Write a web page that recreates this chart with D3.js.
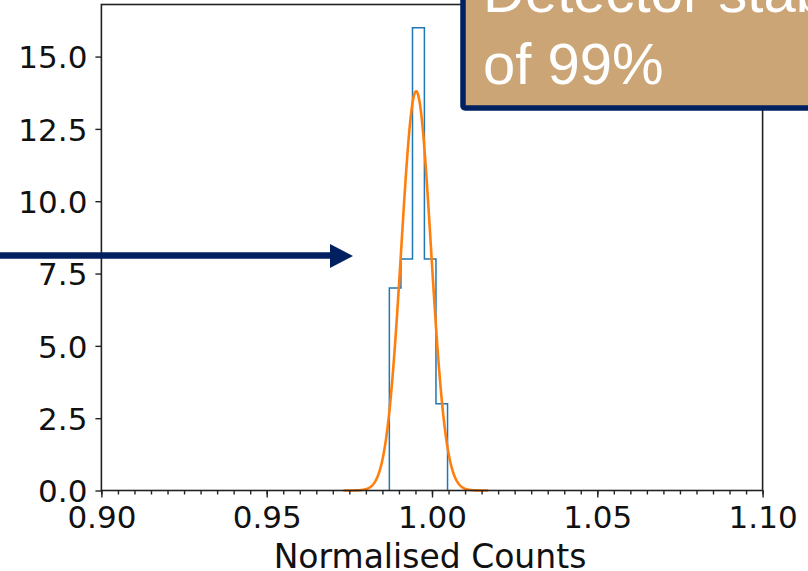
<!DOCTYPE html>
<html>
<head>
<meta charset="utf-8">
<script src="https://cdn.jsdelivr.net/npm/d3@7"></script>
<style>
  html, body { margin: 0; padding: 0; background: #fff; overflow: hidden; }
  svg { display: block; }
</style>
</head>
<body>
<svg id="chart" width="808" height="571"></svg>
<script>
// ---- data ----
const binEdges = [0.9871, 0.9906, 0.9941, 0.9977, 1.0012, 1.0047];
const binCounts = [7, 8, 16, 8, 3];
// Gaussian fit parameters (as plotted)
const fitAmplitude = 13.8;
const fitMean = 0.9952;
const fitSigma = 0.0045;
const fitRange = [0.9732, 1.0170];
const xTicks = [0.90, 0.95, 1.00, 1.05, 1.10];
const xTickLabels = ["0.90", "0.95", "1.00", "1.05", "1.10"];
const yTicks = [0, 2.5, 5, 7.5, 10, 12.5, 15];
const yTickLabels = ["0.0", "2.5", "5.0", "7.5", "10.0", "12.5", "15.0"];
const xDomain = [0.90, 1.10];
const yDomain = [0, 16.8];
const xLabel = "Normalised Counts";
const calloutLines = ["Detector stability", "of 99%"];

// ---- layout ----
const svg = d3.select("#chart");
const mLeft = 101.4, mRight = 762.6, mTop = 4.5, mBottom = 490.5;
const x = d3.scaleLinear().domain(xDomain).range([mLeft, mRight]);
const y = d3.scaleLinear().domain(yDomain).range([mBottom, mTop]);
const tickFont = "'DejaVu Sans', sans-serif";

// histogram step outline
const stepPts = [[binEdges[0], 0]];
binCounts.forEach((c, i) => {
  stepPts.push([binEdges[i], c]);
  stepPts.push([binEdges[i + 1], c]);
});
stepPts.push([binEdges[binEdges.length - 1], 0]);
svg.append("path")
  .attr("d", d3.line().x(d => x(d[0])).y(d => y(d[1]))(stepPts))
  .attr("fill", "none").attr("stroke", "#1f77b4").attr("stroke-width", 1.5)
  .attr("stroke-linejoin", "miter");

// gaussian fit curve
const nPts = 400;
const fitPts = d3.range(nPts + 1).map(i => {
  const xv = fitRange[0] + (fitRange[1] - fitRange[0]) * i / nPts;
  return [xv, fitAmplitude * Math.exp(-((xv - fitMean) ** 2) / (2 * fitSigma ** 2))];
});
svg.append("path")
  .attr("d", d3.line().x(d => x(d[0])).y(d => y(d[1]))(fitPts))
  .attr("fill", "none").attr("stroke", "#ff7f0e").attr("stroke-width", 2.6);

// axes
const xAxis = d3.axisBottom(x).tickValues(xTicks)
  .tickFormat((d, i) => xTickLabels[i]).tickSize(7).tickSizeOuter(0).tickPadding(5);
const xMinor = d3.axisBottom(x).tickValues(d3.range(0, 41).map(i => 0.90 + i * 0.005))
  .tickFormat("").tickSize(4).tickSizeOuter(0);
const yAxis = d3.axisLeft(y).tickValues(yTicks)
  .tickFormat((d, i) => yTickLabels[i]).tickSize(6).tickSizeOuter(0).tickPadding(8);

const gxm = svg.append("g").attr("transform", `translate(0,${mBottom})`).call(xMinor);
const gx = svg.append("g").attr("transform", `translate(0,${mBottom})`).call(xAxis);
const gy = svg.append("g").attr("transform", `translate(${mLeft},0)`).call(yAxis);
[gx, gy, gxm].forEach(g => {
  g.select(".domain").remove();
  g.selectAll(".tick line").attr("stroke", "#222").attr("stroke-width", 1.4);
  g.selectAll("text").attr("font-family", tickFont).attr("font-size", 31).attr("fill", "#111");
});
gx.selectAll("text").attr("dy", null).attr("y", 0).attr("transform", "translate(0,37.5)");
gy.selectAll("text").attr("dy", "0.36em");

// spines
svg.append("rect").attr("x", mLeft).attr("y", mTop).attr("width", mRight - mLeft).attr("height", mBottom - mTop)
  .attr("fill", "none").attr("stroke", "#222").attr("stroke-width", 1.6);

// x label
svg.append("text").attr("x", (mLeft + mRight) / 2 - 2).attr("y", 567.5)
  .attr("text-anchor", "middle").attr("font-family", tickFont).attr("font-size", 33)
  .attr("fill", "#111").text(xLabel);

// arrow
const navy = "#002060";
svg.append("line").attr("x1", 0).attr("y1", 255.5).attr("x2", 332).attr("y2", 255.5)
  .attr("stroke", navy).attr("stroke-width", 6.5);
svg.append("path").attr("d", "M330,244 L353,256 L330,268 Z").attr("fill", navy);

// callout box
svg.append("rect").attr("x", 463).attr("y", -20).attr("width", 420).attr("height", 128)
  .attr("rx", 2)
  .attr("fill", "#CBA576").attr("stroke", navy).attr("stroke-width", 5.5);
const callout = svg.append("text").attr("font-family", "'Liberation Sans', Arial, sans-serif")
  .attr("font-size", 58).attr("fill", "#ffffff");
callout.append("tspan").attr("x", 483).attr("y", 12).text(calloutLines[0]);
callout.append("tspan").attr("x", 483).attr("y", 84).text(calloutLines[1]);
</script>
</body>
</html>
